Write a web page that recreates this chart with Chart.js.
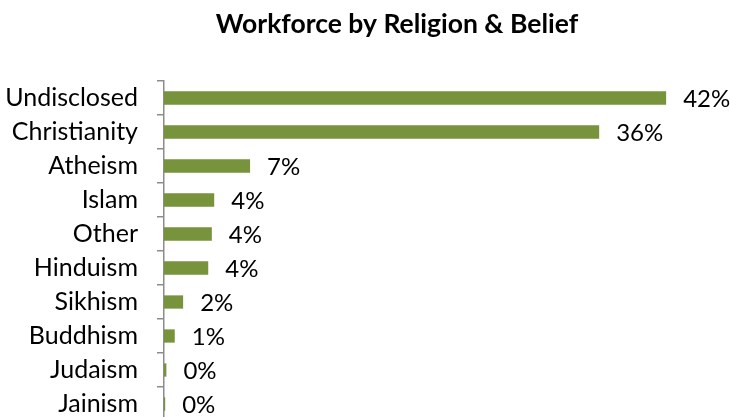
<!DOCTYPE html>
<html>
<head>
<meta charset="utf-8">
<script src="https://cdn.jsdelivr.net/npm/chart.js@4.4.1/dist/chart.umd.min.js"></script>
<style>
html, body { margin: 0; padding: 0; overflow: hidden; background: #fff; }
#wrap { position: relative; width: 730px; height: 421px; }
</style>
</head>
<body>
<div id="wrap"><canvas id="c"></canvas></div>
<script>
const chartTitle = 'Workforce by Religion & Belief';
const categories = ['Undisclosed', 'Christianity', 'Atheism', 'Islam', 'Other', 'Hinduism', 'Sikhism', 'Buddhism', 'Judaism', 'Jainism'];
const shares = [42.0, 36.4, 7.2, 4.2, 4.0, 3.7, 1.6, 0.9, 0.2, 0.1];

const FONT = "Lato, 'Noto Sans', sans-serif";
const LABEL_SIZE = 25;
const VALUE_SIZE = 24;
const TITLE_SIZE = 26.5;

const titlePlugin = {
  id: 'customTitle',
  afterDraw(chart) {
    const ctx = chart.ctx;
    ctx.save();
    ctx.font = 'bold ' + TITLE_SIZE + 'px ' + FONT;
    ctx.fillStyle = '#000';
    ctx.textAlign = 'center';
    ctx.textBaseline = 'middle';
    ctx.fillText(chartTitle, 397, 24);
    ctx.restore();
  }
};

const valueLabels = {
  id: 'valueLabels',
  afterDatasetsDraw(chart) {
    const ctx = chart.ctx;
    const meta = chart.getDatasetMeta(0);
    ctx.save();
    ctx.font = VALUE_SIZE + 'px ' + FONT;
    ctx.fillStyle = '#000';
    ctx.textAlign = 'left';
    ctx.textBaseline = 'middle';
    meta.data.forEach((bar, i) => {
      const v = chart.data.datasets[0].data[i];
      ctx.fillText(Math.round(v) + '%', bar.x + 17, bar.y + 1);
    });
    ctx.restore();
  }
};

new Chart(document.getElementById('c'), {
  type: 'bar',
  data: {
    labels: categories,
    datasets: [{
      data: shares,
      backgroundColor: '#77933C',
      borderWidth: 0,
      categoryPercentage: 1,
      barPercentage: 0.39
    }]
  },
  options: {
    indexAxis: 'y',
    responsive: true,
    maintainAspectRatio: false,
    animation: false,
    layout: { padding: { top: 81, right: 28, bottom: 0, left: 0 } },
    plugins: {
      legend: { display: false },
      title: { display: false },
      tooltip: { enabled: false }
    },
    scales: {
      x: {
        display: false,
        min: 0,
        max: 45
      },
      y: {
        offset: true,
        afterFit(scale) {
          scale.width = 164;
          scale.paddingTop = 0;
          scale.paddingBottom = 0;
        },
        border: { display: true, color: '#8c8c8c', width: 1.5 },
        grid: {
          offset: true,
          drawOnChartArea: false,
          drawTicks: true,
          tickLength: 7,
          color: '#8c8c8c',
          lineWidth: 1.5
        },
        ticks: {
          padding: 19,
          color: '#000',
          font: { family: FONT, size: LABEL_SIZE },
          autoSkip: false
        }
      }
    }
  },
  plugins: [titlePlugin, valueLabels]
});
</script>
</body>
</html>
